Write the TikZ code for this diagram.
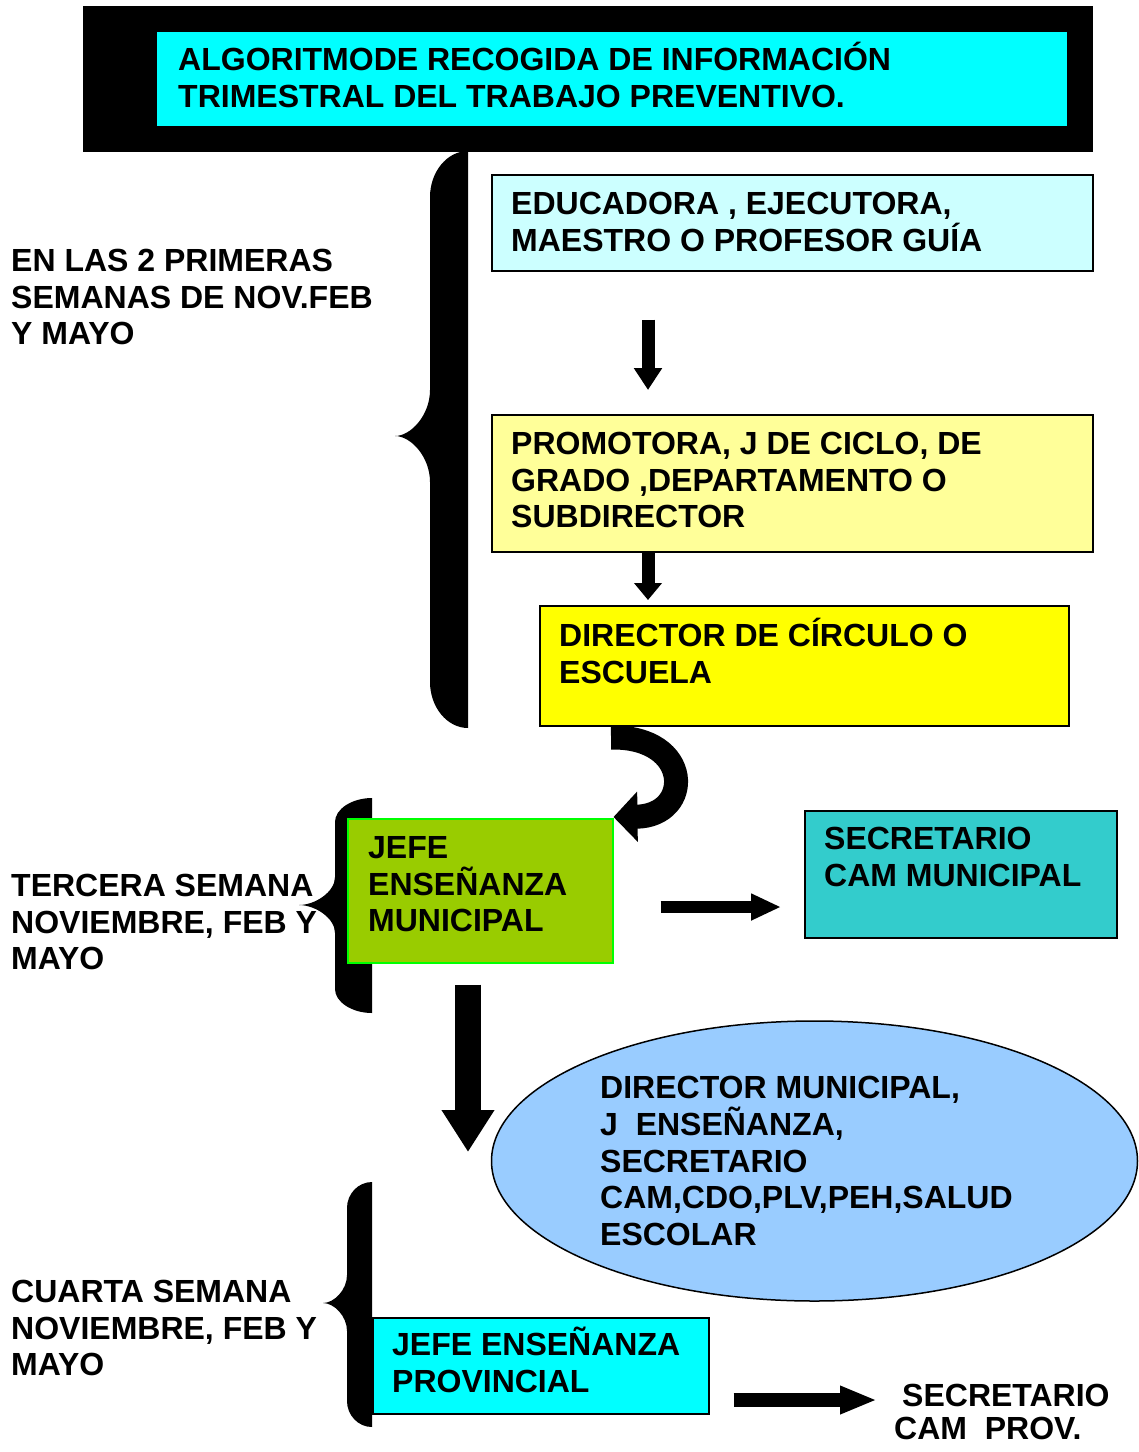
\documentclass[tikz,border=0pt]{standalone}
\usepackage{fontspec}
\setmainfont{Liberation Sans}
\usetikzlibrary{arrows.meta,shapes.geometric,calc}
\definecolor{cTitle}{HTML}{00FFFF}
\definecolor{cA}{HTML}{CCFFFF}
\definecolor{cB}{HTML}{FFFF99}
\definecolor{cC}{HTML}{FFFF00}
\definecolor{cD}{HTML}{99CC00}
\definecolor{cDline}{HTML}{00FF00}
\definecolor{cE}{HTML}{33CCCC}
\definecolor{cF}{HTML}{00FFFF}
\definecolor{cEll}{HTML}{99CCFF}
\newcommand{\FL}{\rule{0pt}{32pt}}
\newcommand{\lbf}{\fontsize{32}{36.8}\selectfont\bfseries}
\begin{document}
\begin{tikzpicture}[x=1pt,y=-1pt,
  box/.style={rectangle, anchor=north west, inner sep=0pt, draw=black, line width=1.5pt},
  txt/.style={anchor=north west, inner sep=0pt, align=left, font=\lbf, text=black},
  bracefill/.style={fill=black}]
\useasboundingbox (0,0) rectangle (1139,1452);

% braces (behind the boxes)
\fill[bracefill] (468,151) .. controls (447,151) and (430,172) .. (430,197)
  -- (430,390) .. controls (430,415) and (411,436) .. (395,436)
  .. controls (411,436) and (430,457) .. (430,482)
  -- (430,682) .. controls (430,707) and (447,728) .. (468,728) -- cycle;
\fill[bracefill] (372,798) .. controls (352,798) and (335,809) .. (335,822)
  -- (335,877) .. controls (335,892) and (315,905) .. (299,905)
  .. controls (315,905) and (335,918) .. (335,933)
  -- (335,989) .. controls (335,1002) and (352,1013) .. (372,1013) -- cycle;
\fill[bracefill] (372,1182) .. controls (358,1182) and (347,1194) .. (347,1208)
  -- (347,1275) .. controls (347,1290) and (334,1303) .. (323,1303)
  .. controls (334,1303) and (347,1316) .. (347,1331)
  -- (347,1401) .. controls (347,1415) and (358,1427) .. (372,1427) -- cycle;

% title
\node[rectangle, anchor=north west, inner sep=0pt, fill=black, minimum width=1010pt, minimum height=146pt] (titleframe) at (83,6) {};
\node[rectangle, anchor=north west, inner sep=0pt, fill=cTitle, minimum width=910pt, minimum height=94pt] (title) at (157,32) {};
\node[txt] (titletxt) at (178,38.7) {\FL ALGORITMODE RECOGIDA DE INFORMACIÓN\\TRIMESTRAL DEL TRABAJO PREVENTIVO.};

% boxes
\node[box, fill=cA, minimum width=601pt, minimum height=96pt] (A) at (491,174) {};
\node[txt] (Atxt) at (511,182) {\FL EDUCADORA , EJECUTORA,\\MAESTRO O PROFESOR GUÍA};

\node[box, fill=cB, minimum width=601pt, minimum height=137pt] (B) at (491,414) {};
\node[txt] (Btxt) at (511,422) {\FL PROMOTORA, J DE CICLO, DE\\GRADO ,DEPARTAMENTO O\\SUBDIRECTOR};

\node[box, fill=cC, minimum width=529pt, minimum height=120pt] (C) at (539,605) {};
\node[txt] (Ctxt) at (559,614) {\FL DIRECTOR DE CÍRCULO O\\ESCUELA};

\node[box, fill=cD, draw=cDline, minimum width=265pt, minimum height=144pt] (D) at (347,818) {};
\node[txt] (Dtxt) at (368,826) {\FL JEFE\\ENSEÑANZA\\MUNICIPAL};

\node[box, fill=cE, minimum width=312pt, minimum height=127pt] (E) at (804,810) {};
\node[txt] (Etxt) at (824,817) {\FL SECRETARIO\\CAM MUNICIPAL};

\node[ellipse, draw=black, line width=1.5pt, fill=cEll, inner sep=0pt, minimum width=646pt, minimum height=280pt] (M) at (814.5,1161) {};
\node[txt] (Mtxt) at (600,1066.3) {\FL DIRECTOR MUNICIPAL,\\J\ \ ENSEÑANZA,\\SECRETARIO\\CAM,CDO,PLV,PEH,SALUD\\ESCOLAR};

\node[box, fill=cF, minimum width=336pt, minimum height=96pt] (F) at (372,1317) {};
\node[txt] (Ftxt) at (392,1323) {\FL JEFE ENSEÑANZA\\PROVINCIAL};

\node[txt] (P) at (894,1374) {\FL\hspace{8pt}SECRETARIO\\[-4pt]CAM\ \ PROV.};

% left labels
\node[txt] (L1) at (11,239) {\FL EN LAS 2 PRIMERAS\\SEMANAS DE NOV.FEB\\Y MAYO};
\node[txt] (L2) at (11,864) {\FL TERCERA SEMANA\\NOVIEMBRE, FEB Y\\MAYO};
\node[txt] (L3) at (11,1270) {\FL CUARTA SEMANA\\NOVIEMBRE, FEB Y\\MAYO};

% arrows
\draw[line width=13pt, -{Triangle[width=27pt,length=22pt]}, shorten <=48pt, shorten >=24pt]
  ($(A.south west)+(157,0)$) -- ($(B.north west)+(157,0)$);
\draw[line width=13pt, -{Triangle[width=27pt,length=17pt]}, shorten >=5pt]
  ($(B.south west)+(157,0)$) -- ($(C.north west)+(109,0)$);
\draw[line width=24pt, -{Triangle[width=49pt,length=24pt]}]
  ($(C.south west)+(72,11)$) .. controls (693,736) and (693,816) .. ($(D.north east)+(0,-1)$);
\coordinate (bigtip) at (468,1152);
\draw[line width=26pt, -{Triangle[width=50pt,length=42pt]}, shorten <=21pt]
  ($(D.south west)+(121,0)$) -- (bigtip);
\draw[line width=12pt, -{Triangle[width=25pt,length=30pt]}, shorten <=47pt, shorten >=23pt]
  ($(D.north east)+(0,89)$) -- ($(E.north west)+(0,97)$);
\coordinate (provtip) at (877,1400);
\draw[line width=14pt, -{Triangle[width=26pt,length=37pt]}, shorten <=24pt]
  ($(F.north east)+(0,83)$) -- (provtip);
\end{tikzpicture}
\end{document}
